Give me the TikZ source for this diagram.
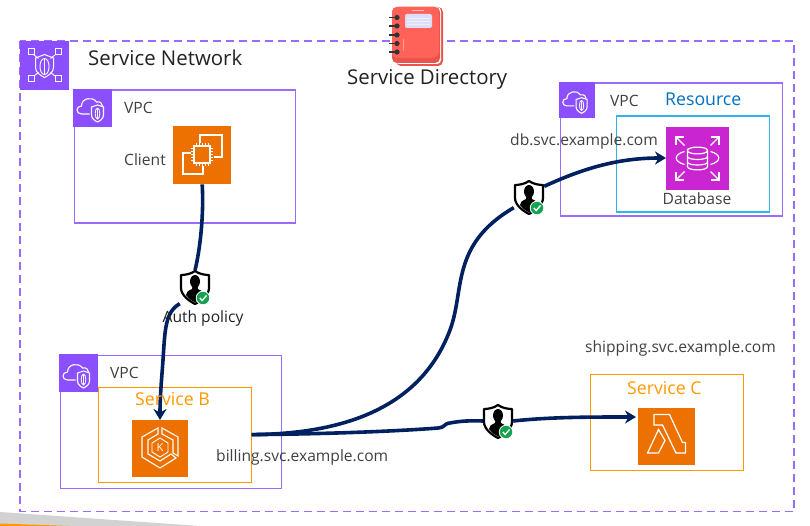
\documentclass[tikz,border=0pt]{standalone}
\usepackage{fontspec}
\setmainfont{Open Sans}
\usetikzlibrary{arrows.meta}
\definecolor{vpcpurple}{HTML}{8C4FFF}
\definecolor{vpcline}{HTML}{9A6BFF}
\definecolor{awsorange}{HTML}{ED7100}
\definecolor{svcorange}{HTML}{FF9900}
\definecolor{rdspink}{HTML}{C925D1}
\definecolor{linknavy}{HTML}{002060}
\definecolor{resblue}{HTML}{0070C0}
\definecolor{rescyan}{HTML}{2FB5E8}
\definecolor{txtdark}{HTML}{404040}
\definecolor{txtblack}{HTML}{222222}
\definecolor{badgegreen}{HTML}{16A34F}
\definecolor{bookred}{HTML}{FF6259}
\definecolor{bookdark}{HTML}{E9544C}
\definecolor{booklabel}{HTML}{DDDDFA}
\tikzset{
  box/.style={draw,line width=1.6pt,rectangle,inner sep=0pt,anchor=north west},
  vpcbox/.style={box,draw=vpcline},
  svcbox/.style={box,draw=svcorange,line width=1.2pt},
  resbox/.style={box,draw=rescyan,line width=1.4pt},
  icontile/.style={rectangle,inner sep=0pt,draw=none,anchor=north west},
  lab/.style={inner sep=0pt,text=txtdark,font=\fontsize{15.6}{17}\selectfont},
  bigblack/.style={inner sep=0pt,text=txtblack,font=\fontsize{20.4}{23}\selectfont},
  svclab/.style={inner sep=0pt,text=svcorange,font=\fontsize{17.7}{20}\selectfont},
  link/.style={draw=linknavy,line width=3.6pt},
  linkarrow/.style={link,-{Stealth[length=11pt,width=13pt]}},
  glyph/.style={draw=white,line width=1.1pt,fill=none,line join=miter},
  shieldnode/.style={rectangle,inner sep=0pt,minimum width=30pt,minimum height=33pt},
  pics/vpcglyph/.style={code={
    \draw[glyph] (-3,7) -- (-11,7) .. controls (-17,7) and (-17,-1) .. (-11,-1)
       .. controls (-11,-9) and (0,-11) .. (4,-5) .. controls (8,-6) and (10,-3) .. (10,-1);
    \draw[glyph,fill=vpcpurple] (5,-2) -- (11,0) -- (11,8) .. controls (11,12) and (7,14) .. (5,15)
       .. controls (3,14) and (-1,12) .. (-1,8) -- (-1,0) -- cycle;
    \draw[glyph,line width=.8pt] (5,1) .. controls (2,1) and (2,12) .. (5,12) .. controls (8,12) and (8,1) .. (5,1);
    \draw[glyph,line width=.8pt] (5,1) -- (5,12);
  }},
  pics/shieldglyph/.style={code={
    \fill[white,draw=black,line width=2.2pt,line join=round] (0,-16) .. controls (4,-13) and (10,-12) .. (14,-12)
      -- (14,1) .. controls (14,8) and (6,14) .. (0,17) .. controls (-6,14) and (-14,8) .. (-14,1)
      -- (-14,-12) .. controls (-10,-12) and (-4,-13) .. cycle;
    \fill[black] (0,-5.5) ellipse (5 and 6.5);
    \fill[black] (-2.5,-1) -- (2.5,-1) -- (3,2) .. controls (7,4) and (9,5) .. (9,8) .. controls (6,12) and (3,14) .. (0,15.5)
      .. controls (-3,14) and (-6,12) .. (-9,8) .. controls (-9,5) and (-7,4) .. (-3,2) -- cycle;
    \fill[badgegreen,draw=white,line width=.8pt] (8,11) circle (6.8);
    \draw[white,line width=1.4pt] (4.8,11) -- (7.2,13.5) -- (11.5,8.5);
  }}
}
\begin{document}
\begin{tikzpicture}[x=1pt,y=-1pt,line cap=butt]
\useasboundingbox (0,0) rectangle (810,526);
% footer sliver
\fill[gray!35] (0,512) -- (200,526) -- (0,526) -- cycle;
\fill[svcorange] (0,523.5) -- (70,526) -- (0,526) -- cycle;
% service network
\draw[draw=vpcline,line width=1.8pt,dash pattern=on 8pt off 5pt] (20,41) rectangle (794,511.5);

% boxes
\node[vpcbox,minimum width=221pt,minimum height=133pt] (vpcclient) at (73.5,89.5) {};
\node[vpcbox,minimum width=222pt,minimum height=133pt] (vpcres) at (559.5,82.5) {};
\node[vpcbox,minimum width=221pt,minimum height=133pt] (vpcb) at (59.5,354.5) {};
\node[resbox,minimum width=153pt,minimum height=96pt] (resbox) at (615.5,115.5) {};
\node[svcbox,minimum width=152.5pt,minimum height=95pt] (svcbbox) at (98,386.5) {};
\node[svcbox,minimum width=153.5pt,minimum height=96pt] (svccbox) at (589.5,373.5) {};

% tiles
\node[icontile,fill=vpcpurple,minimum width=49pt,minimum height=48.5pt] (sntile) at (20,41) {};
\node[icontile,fill=vpcpurple,minimum width=39pt,minimum height=38pt] (t1) at (73,89) {};
\node[icontile,fill=vpcpurple,minimum width=36pt,minimum height=35.5pt] (t2) at (559,82) {};
\node[icontile,fill=vpcpurple,minimum width=39pt,minimum height=38pt] (t3) at (59,354) {};
\node[icontile,fill=awsorange,minimum width=58pt,minimum height=58pt] (client) at (173,126) {};
\node[icontile,fill=rdspink,minimum width=63pt,minimum height=63pt] (db) at (666,127) {};
\node[icontile,fill=awsorange,minimum width=56pt,minimum height=57pt] (eks) at (132,420) {};
\node[icontile,fill=awsorange,minimum width=57pt,minimum height=57pt] (lambda) at (638,408) {};

% service network glyph
\begin{scope}[shift={(44.5,65.5)}]
  \foreach \sx/\sy in {-13.5/-13.5,13.5/-13.5,-13.5/13.5,13.5/13.5}
    \draw[glyph,line width=1pt] (\sx-3,\sy-3) rectangle (\sx+3,\sy+3);
  \draw[glyph,line width=.9pt] (-10.5,-10.5) -- (-6,-7) (10.5,-10.5) -- (6,-7) (-10.5,10.5) -- (-6,7) (10.5,10.5) -- (6,7);
  \draw[glyph,line width=1pt] (0,-11) -- (9,-7.5) -- (9,2) .. controls (9,7) and (4,10) .. (0,12)
     .. controls (-4,10) and (-9,7) .. (-9,2) -- (-9,-7.5) -- cycle;
  \draw[glyph,line width=.9pt] (0,-7) .. controls (-6,-7) and (-6,9) .. (0,9) .. controls (6,9) and (6,-7) .. (0,-7);
  \draw[glyph,line width=.9pt] (0,-7) -- (0,9);
\end{scope}
\pic at (92.5,107) {vpcglyph};
\pic[scale=.92] at (577,99.5) {vpcglyph};
\pic at (78.5,373) {vpcglyph};

% EC2 glyph
\begin{scope}[shift={(202,155)}]
  \draw[glyph] (-2,-12) -- (-2,-20) -- (20,-20) -- (20,2) -- (12,2);
  \draw[glyph] (-11,-2) -- (-19,-2) -- (-19,19) -- (1,19) -- (1,11);
  \draw[glyph,line width=1.2pt] (-8,-9) rectangle (8,8);
  \foreach \p in {-6,-3,0,3,6}{
    \draw[white,line width=.8pt] (\p,-12) -- (\p,-9) (\p,8) -- (\p,11)
      (-11,\p-.5) -- (-8,\p-.5) (8,\p-.5) -- (11,\p-.5);
  }
\end{scope}

% RDS glyph
\begin{scope}[shift={(697.5,158.5)}]
  \draw[glyph,line width=1.2pt] (-10,-8) .. controls (-10,-12.5) and (10,-12.5) .. (10,-8)
    .. controls (10,-3.5) and (-10,-3.5) .. (-10,-8) -- (-10,8) .. controls (-10,12.5) and (10,12.5) .. (10,8) -- (10,-8);
  \draw[glyph,line width=1.2pt] (-10,-2) .. controls (-10,2) and (10,2) .. (10,-2);
  \draw[glyph,line width=1.2pt] (-10,3.5) .. controls (-10,7.5) and (10,7.5) .. (10,3.5);
  \draw[glyph,line width=1.2pt] (-13,-7) .. controls (-24,-4) and (-24,3) .. (-13,6);
  \draw[glyph,line width=1.2pt] (13,-7) .. controls (24,-4) and (24,3) .. (13,6);
  \foreach \a/\b in {1/1,-1/1,1/-1,-1/-1}{
    \draw[glyph,line width=1.2pt] (\a*13,\b*13) -- (\a*21.5,\b*21.5);
    \draw[glyph,line width=1.2pt] (\a*21.5,\b*13.5) -- (\a*21.5,\b*21.5) -- (\a*13.5,\b*21.5);
  }
\end{scope}

% EKS glyph
\begin{scope}[shift={(160,448)}]
  \draw[glyph] (-2,-20) -- (-18,-11) -- (-18,9) -- (0,20) -- (16,10) -- (11,6) -- (0,13) -- (-12,6) -- (-12,-8) -- (-2,-14) -- cycle;
  \draw[glyph] (2,-20) -- (18,-11) -- (18,8) -- (13,5) -- (13,-8) -- (2,-14) -- cycle;
  \draw[glyph,line width=.9pt] (0,-10) -- (8,-5) -- (8,4) -- (0,9) -- (-8,4) -- (-8,-5) -- cycle;
  \node[inner sep=0pt,text=white,font=\fontsize{11}{11}\selectfont] (eksk) at (0,-.5) {K};
\end{scope}

% lambda glyph
\begin{scope}[shift={(666.5,436.5)}]
  \draw[glyph,line width=1.2pt] (-12.5,-22) -- (3,-22) -- (16,6) -- (19,6) -- (19,16.5) -- (9.5,16.5) -- (-4,-11.5) -- (-12.5,-11.5) -- cycle;
  \draw[glyph,line width=1.2pt] (-8,-7) -- (-19,16.5) -- (-8,16.5) -- (-1.5,4) -- cycle;
\end{scope}

% notebook
\begin{scope}[shift={(392,7)}]
  \fill[bookdark,rounded corners=5pt] (4,0) rectangle (51,59);
  \fill[white,rounded corners=4pt] (3,0) rectangle (49,57);
  \fill[bookdark,rounded corners=5pt] (0,0) rectangle (48,56);
  \fill[bookred,rounded corners=5pt] (0,0) -- (47,0) -- (47,40) .. controls (47,48) and (43,51) .. (36,51) -- (0,51) -- cycle;
  \fill[rounded corners=2pt,booklabel] (13,7) rectangle (40,21);
  \foreach \ly in {11,14,17}\draw[white!55!booklabel,line width=.6pt] (15,\ly) -- (38,\ly);
  \fill[white!60!bookred] (20,3) rectangle (32,3.7);
  \fill[white!40!bookred] (11,32) rectangle (12.2,44);
  \foreach \ry in {10.5,19,28,36.5,45}{
    \draw[black!80,line width=1.4pt] (-3,\ry) -- (5,\ry);
    \fill[black!80] (5,\ry) circle (2.6);
  }
\end{scope}

% shields
\node[shieldnode] (shield1) at (195,287) {};
\node[shieldnode] (shield2) at (529,197) {};
\node[shieldnode] (shield3) at (498,421) {};

% connectors
\draw[link] (client.south) .. controls (204,215) and (200,250) .. (shield1.north);
\draw[linkarrow] (shield1.south west) .. controls (165,312) and (165,330) .. (163,360)
   .. controls (162,375) and (160,395) .. (160,420);
\draw[link] (svcbbox.east) .. controls (340,434) and (420,410) .. (450,330)
   .. controls (465,290) and (450,245) .. (shield2.215);
\draw[linkarrow] (shield2.35) .. controls (590,165) and (625,158) .. (666,158);
\draw[link] (svcbbox.east) .. controls (330,434) and (400,431) .. (438,428)
   .. controls (446,427) and (443,424) .. (450,423) .. controls (460,421) and (470,420.5) .. (shield3.west);
\draw[linkarrow] (shield3.east) .. controls (550,417) and (590,417) .. (636,417);

\pic at (shield1) {shieldglyph};
\pic at (shield2) {shieldglyph};
\pic at (shield3) {shieldglyph};

% labels
\node[bigblack,anchor=west] (tsn) at (88,58) {Service Network};
\node[bigblack,anchor=west] (tsd) at (347,79) {Service Directory};
\node[lab,anchor=west] (tv1) at (124,108) {VPC};
\node[lab,anchor=west] (tcl) at (124,160) {Client};
\node[lab,anchor=west] (tv2) at (610,101) {VPC};
\node[lab,anchor=west] (tv3) at (110,373) {VPC};
\node[svclab,anchor=west,text=resblue] (tres) at (665,99.5) {Resource};
\node[lab,anchor=west] (tdbs) at (510,141) {db.svc.example.com};
\node[lab,anchor=center] (tdb) at (697,199) {Database};
\node[lab,anchor=center,text=txtblack] (tauth) at (203,318) {Auth policy};
\node[svclab,anchor=west] (tb) at (135,399.5) {Service B};
\node[svclab,anchor=west] (tc) at (627,388) {Service C};
\node[lab,anchor=west] (tbill) at (216,457) {billing.svc.example.com};
\node[lab,anchor=west] (tship) at (585,348) {shipping.svc.example.com};
\end{tikzpicture}
\end{document}
